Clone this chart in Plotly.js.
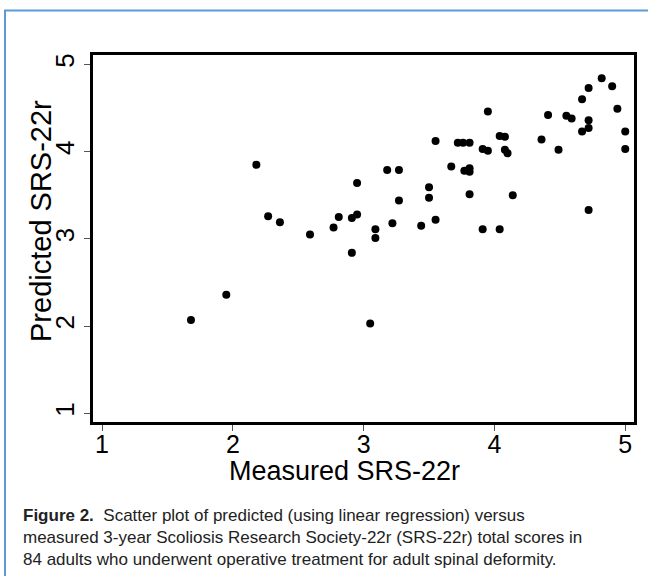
<!DOCTYPE html>
<html>
<head>
<meta charset="utf-8">
<script src="https://cdn.plot.ly/plotly-3.0.1.min.js"></script>
<style>
  html, body { margin: 0; padding: 0; background: #ffffff; }
  #chart { width: 648px; height: 577px; }
</style>
</head>
<body>
<div id="chart"></div>
<script>
// Measured SRS-22r (x) vs predicted SRS-22r (y)
const measured = [
  1.68, 1.95, 2.18, 2.27, 2.36, 2.59, 2.77, 2.81, 2.91, 2.95,
  2.91, 2.95, 3.05, 3.09, 3.09, 3.18, 3.27, 3.27, 3.22, 3.44,
  3.55, 3.55, 3.50, 3.50, 3.67, 3.72, 3.76, 3.81, 3.77, 3.81,
  3.81, 3.81, 3.91, 4.04, 3.91, 3.95, 3.95, 4.04, 4.08, 4.08,
  4.10, 4.14, 4.36, 4.41, 4.49, 4.55, 4.59, 4.67, 4.72, 4.82,
  4.90, 4.67, 4.72, 4.72, 4.72, 4.94, 5.00, 5.00
];
const predicted = [
  2.07, 2.36, 3.85, 3.26, 3.19, 3.05, 3.13, 3.25, 3.24, 3.28,
  2.84, 3.64, 2.03, 3.11, 3.01, 3.79, 3.79, 3.44, 3.18, 3.15,
  3.22, 4.12, 3.59, 3.47, 3.83, 4.10, 4.10, 4.10, 3.78, 3.81,
  3.77, 3.51, 3.11, 3.11, 4.03, 4.01, 4.46, 4.18, 4.17, 4.02,
  3.98, 3.50, 4.14, 4.42, 4.02, 4.41, 4.38, 4.60, 4.73, 4.84,
  4.75, 4.23, 4.36, 4.27, 3.33, 4.49, 4.23, 4.03
];
const tickVals = [1, 2, 3, 4, 5];
const tickText = ["1", "2", "3", "4", "5"];
const xTitle = "Measured SRS-22r";
const yTitle = "Predicted SRS-22r";
const captionLines = [
  "<b>Figure 2.</b>  Scatter plot of predicted (using linear regression) versus",
  "measured 3-year Scoliosis Research Society-22r (SRS-22r) total scores in",
  "84 adults who underwent operative treatment for adult spinal deformity."
];

// plot-area geometry in pixels
const W = 648, H = 577;
const L = 93, R = 14, T = 55, B = 155;
const pw = W - L - R, ph = H - T - B;
const px = v => (v - L) / pw;
const py = v => (H - B - v) / ph;

const font = "Liberation Sans, Arial, sans-serif";

const trace = {
  type: "scatter",
  mode: "markers",
  x: measured,
  y: predicted,
  marker: { color: "#000000", size: 8, line: { width: 0 } },
  hoverinfo: "x+y",
  showlegend: false
};

const axisCommon = {
  showgrid: false,
  zeroline: false,
  showline: true,
  mirror: true,
  linecolor: "#000000",
  linewidth: 3,
  ticks: "outside",
  ticklen: 6,
  tickwidth: 1,
  tickcolor: "#555555",
  tickvals: tickVals,
  ticktext: tickText,
  tickfont: { family: font, size: 25, color: "#000000" }
};

const layout = {
  width: W,
  height: H,
  margin: { l: L, r: R, t: T, b: B, pad: 0 },
  paper_bgcolor: "#ffffff",
  plot_bgcolor: "#ffffff",
  showlegend: false,
  xaxis: Object.assign({}, axisCommon, {
    range: [0.931, 5.067],
    ticklabelstandoff: -8
  }),
  yaxis: Object.assign({}, axisCommon, {
    range: [0.901, 5.107],
    tickangle: -90,
    tickfont: { family: font, size: 26, color: "#000000" }
  }),
  shapes: [
    { type: "line", xref: "paper", yref: "paper", x0: px(4), x1: px(660), y0: py(10.5), y1: py(10.5),
      line: { color: "#5b9bd5", width: 2 } },
    { type: "line", xref: "paper", yref: "paper", x0: px(5), x1: px(5), y0: py(10), y1: py(576),
      line: { color: "#5b9bd5", width: 2 } }
  ],
  annotations: [
    { xref: "paper", yref: "paper", x: px(344), y: py(471), xanchor: "center", yanchor: "middle",
      showarrow: false, text: xTitle,
      font: { family: font, size: 27, color: "#000000" } },
    { xref: "paper", yref: "paper", x: px(41), y: py(221), xanchor: "center", yanchor: "middle",
      showarrow: false, text: yTitle, textangle: -90,
      font: { family: font, size: 29, color: "#000000" } },
    { xref: "paper", yref: "paper", x: px(21), y: py(537), xanchor: "left", yanchor: "middle",
      align: "left", showarrow: false, text: captionLines.join("<br>"),
      font: { family: font, size: 17, color: "#222222" } }
  ]
};

Plotly.newPlot("chart", [trace], layout, { displayModeBar: false, staticPlot: true });
</script>
</body>
</html>
